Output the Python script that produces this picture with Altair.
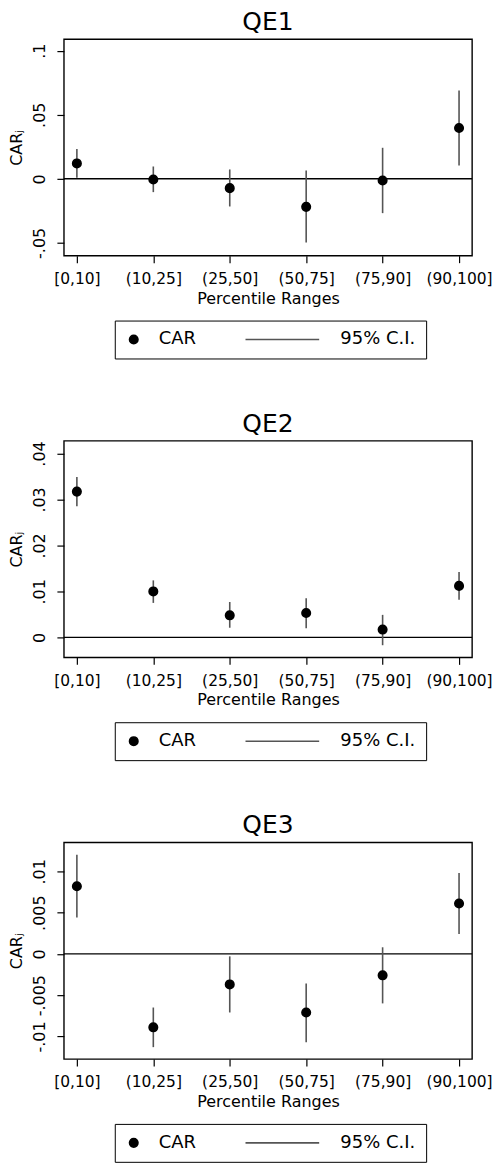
import altair as alt
import pandas as pd

categories = ["[0,10]", "(10,25]", "(25,50]", "(50,75]", "(75,90]", "(90,100]"]

qe1_car = [0.0120, -0.0005, -0.0073, -0.0219, -0.0013, 0.0396]
qe1_lo = [0.0008, -0.0104, -0.0216, -0.0497, -0.0268, 0.0104]
qe1_hi = [0.0232, 0.0096, 0.0073, 0.0065, 0.0242, 0.0690]

qe2_car = [0.0317, 0.0100, 0.0048, 0.0053, 0.0017, 0.0112]
qe2_lo = [0.0285, 0.0075, 0.0021, 0.0020, -0.0017, 0.0082]
qe2_hi = [0.0349, 0.0124, 0.0077, 0.0085, 0.0049, 0.0142]

qe3_car = [0.0082, -0.0089, -0.0037, -0.0071, -0.0026, 0.0061]
qe3_lo = [0.0044, -0.0113, -0.0071, -0.0107, -0.0060, 0.0024]
qe3_hi = [0.0120, -0.0065, -0.0003, -0.0036, 0.0008, 0.0098]

panel_titles = ["QE1", "QE2", "QE3"]
y_domains = [[-0.060, 0.109], [-0.00434, 0.04275], [-0.01274, 0.0135]]
y_ticks = [[-0.05, 0, 0.05, 0.1], [0, 0.01, 0.02, 0.03, 0.04],
           [-0.01, -0.005, 0, 0.005, 0.01]]

legend_labels = ["CAR", "95% C.I."]
legend_strokes = ["black", "#555555"]
FONT = "DejaVu Sans"
LABEL_EXPR = "replace(toString(datum.value), '0.', '.')"


def make_legend():
    return alt.Legend(
        title=None, orient="none", direction="horizontal",
        legendX=51, legendY=282,
        strokeColor="black", padding=10,
        labelFontSize=18, labelFont=FONT, labelColor="black",
        labelOffset=16, columnPadding=45, symbolSize=72,
        symbolStrokeWidth=1.6, symbolOpacity=1,
    )


def panel(title, car, lo, hi, ydom, yticks):
    df = pd.DataFrame({"range": categories, "car": car, "lo": lo, "hi": hi,
                       "series": ["CAR"] * len(categories)})
    zero_df = pd.DataFrame({"z": [0.0]})
    x = alt.X("range:O", sort=categories,
              scale=alt.Scale(type="point", padding=0.17),
              axis=alt.Axis(title="Percentile Ranges", labelAngle=0,
                            labelFontSize=15.5, labelPadding=9, titlePadding=3))
    yscale = alt.Scale(domain=ydom, nice=False, zero=False)
    yaxis = alt.Axis(title="CARⱼ", values=yticks, labelExpr=LABEL_EXPR,
                     labelAngle=270, labelPadding=9, titlePadding=7)
    zero = alt.Chart(zero_df).mark_rule(color="black", strokeWidth=1.4).encode(
        y=alt.Y("z:Q", scale=yscale, axis=yaxis))
    ci = alt.Chart(df).mark_rule(color="#555555", strokeWidth=1.6).encode(
        x=x, y=alt.Y("lo:Q", scale=yscale, axis=yaxis), y2="hi:Q")
    pts = alt.Chart(df).mark_point(filled=True, opacity=1, fill="black",
                                   strokeWidth=1.6).encode(
        x=x,
        y=alt.Y("car:Q", scale=yscale, axis=yaxis),
        size=alt.value(72),
        shape=alt.Shape(
            "series:N",
            scale=alt.Scale(domain=legend_labels,
                            range=["circle", "M-16.5,0H0.9"]),
            legend=make_legend(),
        ),
        stroke=alt.Stroke(
            "series:N",
            scale=alt.Scale(domain=legend_labels, range=legend_strokes),
            legend=make_legend(),
        ),
    )
    return alt.layer(zero, ci, pts).properties(
        width=409, height=217,
        title=alt.Title(title, fontSize=25, font=FONT, fontWeight="normal",
                        anchor="middle", frame="group", offset=4, color="black"),
    )


charts = [
    panel(panel_titles[0], qe1_car, qe1_lo, qe1_hi, y_domains[0], y_ticks[0]),
    panel(panel_titles[1], qe2_car, qe2_lo, qe2_hi, y_domains[1], y_ticks[1]),
    panel(panel_titles[2], qe3_car, qe3_lo, qe3_hi, y_domains[2], y_ticks[2]),
]

chart = alt.vconcat(*charts, spacing=50.5).resolve_scale(
    y="independent", shape="independent", stroke="independent"
).resolve_legend(shape="independent", stroke="independent").configure_axis(
    labelFont=FONT, labelFontSize=16, labelColor="black",
    titleFont=FONT, titleFontSize=16, titleFontWeight="normal", titleColor="black",
    tickColor="black", tickSize=7, tickWidth=1.2, domain=False, grid=False,
).configure_view(stroke="black", strokeWidth=1.4).properties(padding=0)

chart.save("out.html", embed_options={"renderer": "svg", "actions": False})
